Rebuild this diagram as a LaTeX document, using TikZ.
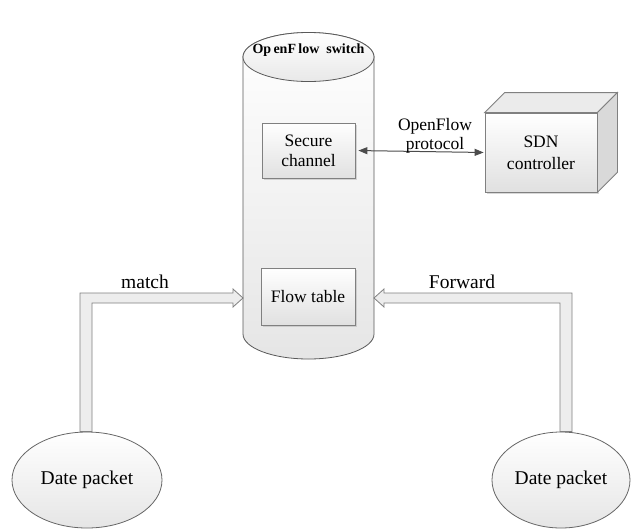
\documentclass[tikz,border=0pt]{standalone}
\usepackage{fontspec}
\setmainfont{Liberation Serif}
\usetikzlibrary{shapes.geometric,arrows.meta,calc,shadows}
\begin{document}
\begin{tikzpicture}[x=1pt,y=1pt,
  boxstyle/.style={draw=black!50, line width=0.8pt, top color=white, bottom color=black!12,
    drop shadow={shadow xshift=1.5pt, shadow yshift=-1.5pt, fill=black!30, opacity=0.5},
    align=center, inner sep=0pt, font=\fontsize{17.5}{20}\selectfont},
  packet/.style={ellipse, draw=black!60, line width=0.8pt, top color=white, bottom color=black!10,
    minimum height=96pt, inner sep=0pt, font=\fontsize{19.5}{22}\selectfont},
  hollow/.style={draw=black!50, line width=0.8pt, fill=black!7, line join=miter},
  biglabel/.style={font=\fontsize{19.5}{22}\selectfont, inner sep=0pt},
  protolink/.style={draw=black!70, line width=1pt, {Triangle[length=9pt,width=7pt]}-{Triangle[length=9pt,width=7pt]}, shorten <=3pt, shorten >=1pt}
]
\useasboundingbox[fill=white] (0,0) rectangle (632,-528);

% cylinder (OpenFlow switch)
\path[draw=black!65, line width=0.8pt, top color=white, bottom color=black!10]
  (243,-57) -- (243,-334) arc[start angle=180, end angle=360, x radius=65.5pt, y radius=25pt]
  -- (374,-57) arc[start angle=0, end angle=180, x radius=65.5pt, y radius=24.5pt] -- cycle;
\path[draw=black!65, line width=0.8pt, top color=white, bottom color=black!9]
  (308.5,-57) ellipse[x radius=65.5pt, y radius=24.5pt];
\node[font=\bfseries\fontsize{14}{16}\selectfont, inner sep=0pt] (sw) at (308.5,-50) {Op\,enF\,low\ \ switch};
\coordinate (tipL) at (243,-298);
\coordinate (tipR) at (374,-298);

% boxes inside switch
\node[boxstyle, minimum width=93pt, minimum height=55pt] (secure) at (308.5,-150.5) {Secure\\channel};
\node[boxstyle, minimum width=94pt, minimum height=57pt] (flow) at (308,-296.5) {Flow table};

% SDN controller (3D box)
\node[boxstyle, drop shadow={opacity=0}, minimum width=112pt, minimum height=79pt] (sdn) at (541,-152.5) {SDN\\[2pt]controller};
\path[draw=black!50, line width=0.8pt, fill=black!8]
  (sdn.north west) -- ($(sdn.north west)+(20,20)$) -- ($(sdn.north east)+(20,20)$) -- (sdn.north east) -- cycle;
\path[draw=black!50, line width=0.8pt, fill=black!15]
  (sdn.north east) -- ($(sdn.north east)+(20,20)$) -- ($(sdn.south east)+(20,20)$) -- (sdn.south east) -- cycle;

% OpenFlow protocol link
\draw[protolink] (secure.east) -- (sdn.west);
\node[align=center, inner sep=0pt, font=\fontsize{17.5}{19}\selectfont] (proto) at (435,-136) {OpenFlow\\protocol};

% data packets
\node[packet, minimum width=150pt] (pL) at (87,-480) {Date packet};
\node[packet, minimum width=138pt] (pR) at (561,-480) {Date packet};

% hollow arrows
\draw[hollow] let \p1=(pL.north), \p2=(tipL) in
  (\x1-7pt,\y1) -- (\x1-7pt,\y2+5pt) -- (\x2-10pt,\y2+5pt) -- (\x2-10pt,\y2+9pt) -- (\p2)
  -- (\x2-10pt,\y2-9pt) -- (\x2-10pt,\y2-5pt) -- (\x1+5pt,\y2-5pt) -- (\x1+5pt,\y1) -- cycle;
\draw[hollow] let \p1=(pR.north), \p2=(tipR) in
  (\x1+11pt,\y1) -- (\x1+11pt,\y2+5pt) -- (\x2+10pt,\y2+5pt) -- (\x2+10pt,\y2+9pt) -- (\p2)
  -- (\x2+10pt,\y2-9pt) -- (\x2+10pt,\y2-5pt) -- (\x1-1pt,\y2-5pt) -- (\x1-1pt,\y1) -- cycle;

\node[biglabel] (match) at (145,-282) {match};
\node[biglabel] (fwd) at (462,-282) {Forward};
\end{tikzpicture}
\end{document}
